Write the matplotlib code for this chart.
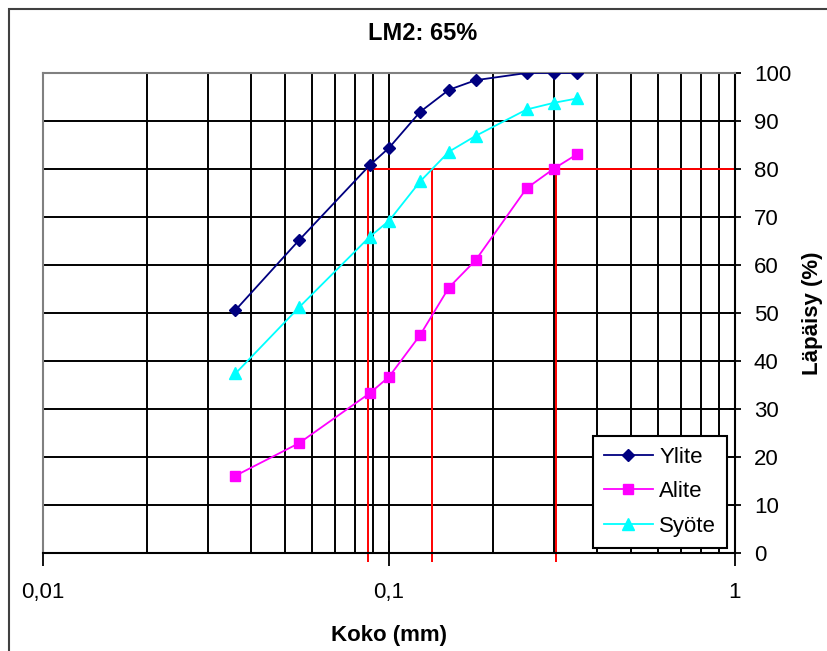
import numpy as np
import matplotlib
matplotlib.use('Agg')
import matplotlib.pyplot as plt
from matplotlib.ticker import LogLocator, FixedLocator, NullFormatter
from matplotlib.patches import Rectangle

plt.rcParams['font.family'] = ['Liberation Sans', 'DejaVu Sans']

# seulakoot (mm) ja läpäisyprosentit
koko = [0.036, 0.055, 0.088, 0.1, 0.123, 0.149, 0.178, 0.25, 0.3, 0.35]
ylite = [50.6, 65.2, 80.8, 84.4, 91.9, 96.5, 98.5, 100.0, 100.0, 100.0]
alite = [16.1, 22.9, 33.3, 36.7, 45.4, 55.3, 61.0, 76.0, 80.1, 83.1]
syote = [37.4, 51.2, 65.9, 69.2, 77.4, 83.6, 86.9, 92.4, 93.8, 94.7]

# d80-arvot
d80 = [0.087, 0.133, 0.304]
raja = 80

x_ticks = [0.01, 0.1, 1]
x_labels = ['0,01', '0,1', '1']
y_ticks = list(range(0, 101, 10))

fig = plt.figure(figsize=(8.27, 6.51), dpi=100)
ax = fig.add_axes([43/827, 1 - 553/651, 692/827, 480/651])

# ulkokehys
fig.patches.append(Rectangle((9/827, -0.1), 1.2, 1 - 9/651 + 0.1, transform=fig.transFigure,
                             fill=False, edgecolor='#404040', linewidth=1.5))

ax.set_xscale('log')
ax.set_xlim(0.01, 1)
ax.set_ylim(0, 100)

# ruudukko
ax.xaxis.set_major_locator(FixedLocator(x_ticks))
ax.xaxis.set_minor_locator(LogLocator(base=10, subs=np.arange(2, 10)))
ax.xaxis.set_minor_formatter(NullFormatter())
ax.set_xticklabels(x_labels)
ax.set_yticks(y_ticks)
ax.grid(True, which='both', axis='x', color='black', linewidth=1.4)
ax.grid(True, which='major', axis='y', color='black', linewidth=1.4)
ax.set_axisbelow(True)

# punaiset d80-viivat
ax.hlines(raja, d80[0], 1, color='red', linewidth=1.4, zorder=2)
for d in d80:
    ax.vlines(d, -1.9, raja, color='red', linewidth=1.4, zorder=2, clip_on=False)

ax.plot(koko, ylite, color='#000080', marker='D', markersize=6.5, linewidth=1.3, label='Ylite', zorder=3)
ax.plot(koko, alite, color='#FF00FF', marker='s', markersize=7.5, linewidth=1.3, label='Alite', zorder=3)
ax.plot(koko, syote, color='#00FFFF', marker='^', markersize=8.5, linewidth=1.3, label='Syöte', zorder=3)

ax.yaxis.tick_right()
ax.yaxis.set_label_position('right')
ax.tick_params(axis='y', which='major', direction='inout', length=9, width=1.3,
               labelsize=16, pad=9, colors='black')
ax.tick_params(axis='x', which='major', direction='inout', length=18, width=1.3,
               labelsize=16, pad=12)
ax.tick_params(axis='x', which='minor', direction='in', length=0)

for s in ['top', 'left']:
    ax.spines[s].set_color('#808080')
    ax.spines[s].set_linewidth(1.5)
for s in ['bottom', 'right']:
    ax.spines[s].set_color('black')
    ax.spines[s].set_linewidth(1.5)

ax.set_xlabel('Koko (mm)', fontsize=16, fontweight='bold', labelpad=16)
ax.set_ylabel('Läpäisy (%)', fontsize=16, fontweight='bold', labelpad=8)
fig.text(423/827, 1 - 33/651, 'LM2: 65%', fontsize=17, fontweight='bold',
         ha='center', va='center')

leg = ax.legend(loc='lower right', bbox_to_anchor=(0.989, 0.011), fontsize=16,
                frameon=True, fancybox=False, framealpha=1, edgecolor='black',
                handlelength=2.2, handletextpad=0.3, labelspacing=0.6,
                borderpad=0.5, borderaxespad=0)
leg.get_frame().set_linewidth(1.5)

fig.savefig('out.png', dpi=100)
